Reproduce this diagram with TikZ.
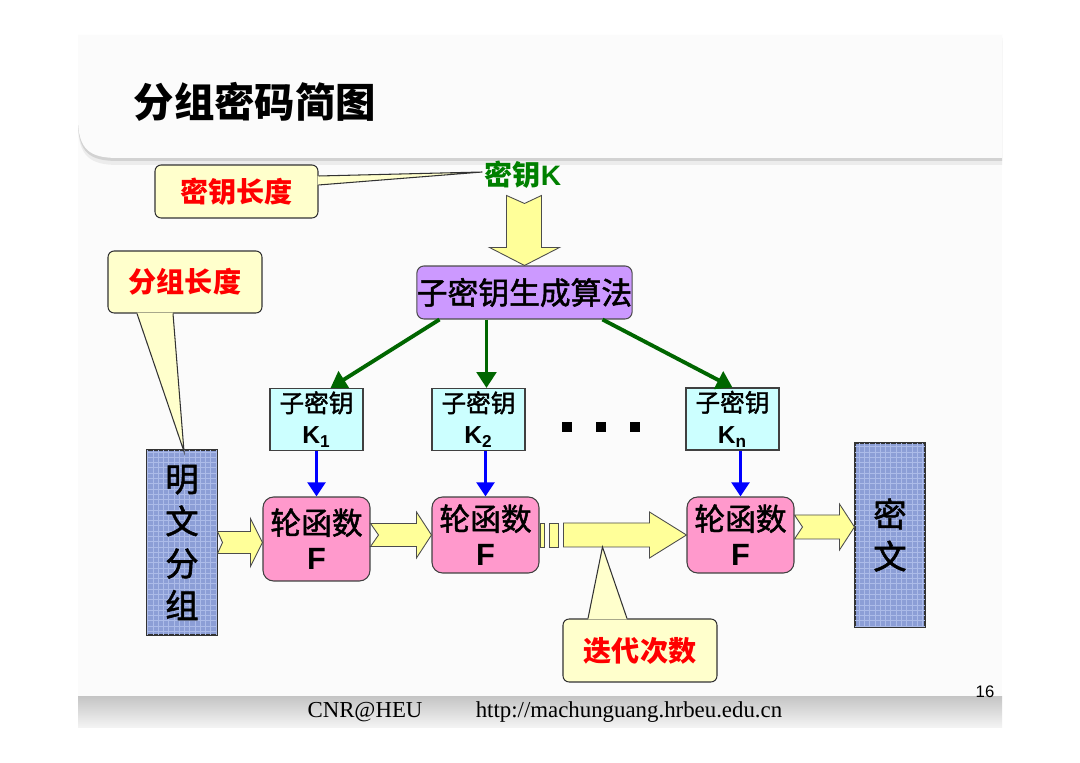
\documentclass[tikz,border=0pt]{standalone}
\usepackage{fontspec}
\setmainfont{Liberation Serif}
\setsansfont{Liberation Sans}
\newfontfamily\cjk{Noto Sans CJK SC}
\newfontfamily\hei[FakeBold=1.6]{Noto Sans CJK SC}
\usetikzlibrary{calc,arrows.meta,patterns}

\definecolor{callfill}{RGB}{255,255,204}
\definecolor{arryellow}{RGB}{255,255,153}
\definecolor{genpurple}{RGB}{204,153,255}
\definecolor{subcyan}{RGB}{204,255,255}
\definecolor{fpink}{RGB}{255,153,204}
\definecolor{blockblue}{RGB}{140,158,214}
\definecolor{gridblue}{RGB}{172,187,232}
\definecolor{keygreen}{RGB}{0,102,0}
\definecolor{textgreen}{RGB}{0,128,0}

% tail, tip, half shaft, half head, head length, notch
\newcommand{\fatarrow}[6]{%
  \draw[fatarr] ($(#1)+(0,-#3)$) -- ($(#2)+(-#5,-#3)$) -- ($(#2)+(-#5,-#4)$) -- (#2)
    -- ($(#2)+(-#5,#4)$) -- ($(#2)+(-#5,#3)$) -- ($(#1)+(0,#3)$) -- ($(#1)+(#6,0)$) -- cycle;}

\tikzset{
  callout/.style={draw=black!80, fill=callfill, rounded corners=3.5pt, line width=0.6pt,
    inner sep=0pt, text=red, font=\cjk\bfseries\fontsize{16}{18}\selectfont},
  genbox/.style={draw=black!70, fill=genpurple, rounded corners=4pt, line width=0.6pt,
    minimum width=4.3cm, minimum height=1.06cm, inner sep=0pt, font=\hei\fontsize{17.5}{20}\selectfont},
  subkey/.style={draw=black!75, fill=subcyan, line width=0.6pt, minimum width=1.86cm,
    minimum height=1.24cm, inner sep=0pt, align=center, font=\hei\fontsize{14}{18}\selectfont},
  roundf/.style={draw=black!75, fill=fpink, rounded corners=6pt, line width=0.6pt,
    minimum width=2.14cm, inner sep=0pt, align=center, font=\hei\fontsize{17.5}{20}\selectfont},
  textblock/.style={draw=black!80, fill=blockblue, postaction={pattern=grid, pattern color=gridblue},
    line width=0.6pt, minimum width=1.4cm, inner sep=0pt, align=center, font=\hei\fontsize{19}{24}\selectfont},
  fatarr/.style={draw=black!70, fill=arryellow, line width=0.5pt, line join=miter},
  garrow/.style={draw=keygreen, line width=2.2pt, -{Triangle[width=11pt,length=9pt]}},
  barrow/.style={draw=blue, line width=2.2pt, -{Triangle[width=10pt,length=8pt]}},
}

\begin{document}
\begin{tikzpicture}[x=0.02cm,y=-0.02cm]
\useasboundingbox (0,0) rectangle (1080,763);
\fill[white] (0,0) rectangle (1080,763);
\fill[gray!3] (78,35) rectangle (1002,728);

% header panel
\fill[gray!15] (78,41) -- (78,124) .. controls (78,156) and (90,165) .. (118,165) -- (1002,165) -- (1002,41) -- cycle;
\fill[gray!35] (78,38) -- (78,121) .. controls (78,153) and (90,161) .. (118,161) -- (1002,161) -- (1002,38) -- cycle;
\fill[white!97!gray] (78,35) -- (78,118) .. controls (78,150) and (90,158) .. (118,158) -- (1002,158) -- (1002,35) -- cycle;
\node (title) at (255,102) {\cjk\bfseries\fontsize{23}{26}\selectfont 分组密码简图};

% footer
\shade[top color=gray!45, bottom color=gray!8] (78,697) rectangle (1002,728);
\node (org) at (365,712) {\fontsize{13}{15}\selectfont CNR@HEU};
\node (url) at (629,712) {\fontsize{13}{15}\selectfont http://machunguang.hrbeu.edu.cn};
\node (page) at (985,692) {\sffamily\fontsize{9.5}{11}\selectfont 16};

% key and subkey generation
\node[inner sep=0pt, text=textgreen] (key) at (523,175) {\cjk\bfseries\fontsize{16}{18}\selectfont 密钥\sffamily K};
\node[genbox] (gen) at (524.5,292.5) {子密钥生成算法};
\draw[fatarr] ($(gen.north)+(-18,-70)$) -- ($(gen.north)+(0,-62)$) -- ($(gen.north)+(17,-70)$)
  -- ($(gen.north)+(17,-18)$) -- ($(gen.north)+(35,-18)$) -- (gen.north)
  -- ($(gen.north)+(-35,-18)$) -- ($(gen.north)+(-18,-18)$) -- cycle;

\node[subkey] (k1) at (316.5,419.5) {子密钥\\{\sffamily\bfseries K\textsubscript{1}}};
\node[subkey] (k2) at (478.5,419.5) {子密钥\\{\sffamily\bfseries K\textsubscript{2}}};
\node[subkey] (kn) at (732.5,419) {子密钥\\{\sffamily\bfseries K\textsubscript{n}}};
\foreach \x in {567,601,635}
  \fill (\x-5,422) rectangle (\x+5,432);

\draw[garrow] ($(gen.south)+(-85,0)$) -- ($(k1.north)+(14,0)$);
\draw[garrow] ($(gen.south)+(-38,0)$) -- ($(k2.north)+(8,0)$);
\draw[garrow] ($(gen.south)+(78,0)$) -- (kn.north);

% rounds
\node[textblock, minimum height=3.7cm] (pt) at (182,542.5) {明\\文\\分\\组};
\node[roundf, minimum height=1.68cm] (f1) at (316.5,539) {轮函数\\{\sffamily\bfseries F}};
\node[roundf, minimum height=1.52cm] (f2) at (485.5,535) {轮函数\\{\sffamily\bfseries F}};
\node[roundf, minimum height=1.52cm] (fn) at (740.5,535) {轮函数\\{\sffamily\bfseries F}};
\node[textblock, minimum height=3.68cm] (ct) at (890,535) {密\\文};

\draw[barrow] (f1.north |- k1.south) -- (f1.north);
\draw[barrow] (f2.north |- k2.south) -- (f2.north);
\draw[barrow] (fn.north |- kn.south) -- (fn.north);

\coordinate (a1) at (f1.west |- pt.east);
\fatarrow{pt.east}{a1}{11}{24}{12}{5}
\coordinate (a2) at (f1.east |- f2.west);
\fatarrow{a2}{f2.west}{11.5}{23}{15}{8}
\draw[fatarr] ($(f2.east)+(1,-12)$) rectangle ($(f2.east)+(5,12)$);
\draw[fatarr] ($(f2.east)+(10,-12)$) rectangle ($(f2.east)+(19,12)$);
\coordinate (a3) at ($(f2.east)+(24,0)$);
\fatarrow{a3}{fn.west}{12}{23}{37}{0}
\coordinate (a4) at ($(fn.east)+(0,-8)$);
\coordinate (a5) at (ct.west |- a4);
\fatarrow{a4}{a5}{12}{23}{15}{8}

% callouts
\coordinate (klentip) at ($(key.west)+(-2,-3)$);
\fill[callfill] (316,176) -- (klentip) -- (316,185) -- cycle;
\node[callout, minimum width=3.26cm, minimum height=1.06cm] (klen) at (236.5,191.5) {密钥长度};
\fill[callfill] ($(klen.east)+(-1,-15.5)$) -- (klentip) -- ($(klen.east)+(-1,-6.5)$) -- cycle;
\draw[black!80, line width=0.6pt] ($(klen.east)+(0,-15.5)$) -- (klentip) -- ($(klen.east)+(0,-6.5)$);

\coordinate (glentip) at ($(pt.north)+(2,2)$);
\fill[callfill] (137,310) -- (glentip) -- (173,310) -- cycle;
\node[callout, minimum width=3.08cm, minimum height=1.24cm] (glen) at (185,282) {分组长度};
\fill[callfill] ($(glen.south)+(-48,-1)$) -- (glentip) -- ($(glen.south)+(-12,-1)$) -- cycle;
\draw[black!80, line width=0.6pt] ($(glen.south)+(-48,0)$) -- (glentip) -- ($(glen.south)+(-12,0)$);

\coordinate (itertip) at ($(fn.west)+(-84,12)$);
\fill[callfill] (588,622) -- (itertip) -- (627,622) -- cycle;
\node[callout, minimum width=3.08cm, minimum height=1.26cm] (iter) at (640,650.5) {迭代次数};
\fill[callfill] ($(iter.north)+(-52,1)$) -- (itertip) -- ($(iter.north)+(-13,1)$) -- cycle;
\draw[black!80, line width=0.6pt] ($(iter.north)+(-52,0)$) -- (itertip) -- ($(iter.north)+(-13,0)$);
\end{tikzpicture}
\end{document}
